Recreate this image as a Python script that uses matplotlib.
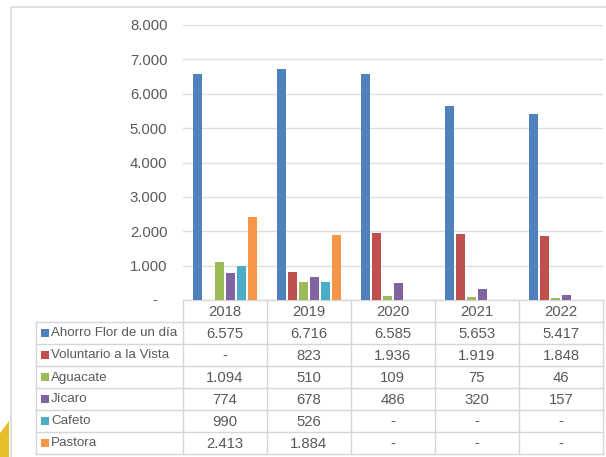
import numpy as np
import matplotlib

matplotlib.use("Agg")
import matplotlib.pyplot as plt
from matplotlib.patches import Polygon, Rectangle

plt.rcParams["font.family"] = ["Liberation Sans", "DejaVu Sans"]

years = ["2018", "2019", "2020", "2021", "2022"]
series_names = [
    "Ahorro Flor de un día",
    "Voluntario a la Vista",
    "Aguacate",
    "Jícaro",
    "Cafeto",
    "Pastora",
]
ahorro_flor = [6575, 6716, 6585, 5653, 5417]
voluntario_vista = [0, 823, 1936, 1919, 1848]
aguacate = [1094, 510, 109, 75, 46]
jicaro = [774, 678, 486, 320, 157]
cafeto = [990, 526, 0, 0, 0]
pastora = [2413, 1884, 0, 0, 0]
series_values = [ahorro_flor, voluntario_vista, aguacate, jicaro, cafeto, pastora]
colors = ["#4F81BD", "#C0504D", "#9BBB59", "#8064A2", "#4BACC6", "#F79646"]
y_ticks = [0, 1000, 2000, 3000, 4000, 5000, 6000, 7000, 8000]


def fmt(v):
    # Excel-style thousands separator with dot, zero as dash
    if v == 0:
        return "-"
    return f"{v:,}".replace(",", ".")


W, H = 606, 457
fig = plt.figure(figsize=(W / 100, H / 100), dpi=100)
fig.patch.set_facecolor("white")

text_color = "#595959"
grid_color = "#DDDDDD"
fs = 10.7

# overlay in pixel coords for frame and table
ov = fig.add_axes([0, 0, 1, 1])
ov.set_xlim(0, W)
ov.set_ylim(H, 0)
ov.axis("off")

# outer chart frame
ov.add_patch(Rectangle((10.5, 6.5), 620, 470, fill=False, ec="#DADADA", lw=1.2))
# yellow decoration
ov.add_patch(Polygon([(0, 457), (0, 433), (9, 421), (9, 457)], closed=True, fc="#E5BE2A", ec="none"))

# plot area
x0, x1 = 182.7, 603
ytop, ybot = 25, 300
ax = fig.add_axes([x0 / W, 1 - ybot / H, (x1 - x0) / W, (ybot - ytop) / H])
ax.set_facecolor("none")
n = len(series_names)
pitch = 11 / 84
width = 9 / 84
x = np.arange(len(years))
for i, (vals, c) in enumerate(zip(series_values, colors)):
    ax.bar(x + (i - (n - 1) / 2) * pitch, vals, width=width, color=c, zorder=3)
ax.set_xlim(-0.5, len(years) - 0.5)
ax.set_ylim(0, 8000)
ax.set_yticks(y_ticks)
ax.set_yticklabels([fmt(v) if v else "" for v in y_ticks])
ax.tick_params(axis="y", length=0, pad=11, labelsize=fs, labelcolor=text_color)
ax.set_xticks([])
ax.yaxis.grid(True, color=grid_color, lw=1.0, zorder=0)
for s in ax.spines.values():
    s.set_visible(False)
ax.text(-0.06, 0, "-", transform=ax.get_yaxis_transform(), ha="right", va="center",
        fontsize=fs, color=text_color)

# data table
col_edges = np.linspace(x0, x1, len(years) + 1)
lab_left = 36
head_top, head_bot = 300, 321.5
row_h = 22
tbl_bot = head_bot + row_h * n
lc = "#D6D6D6"

# header row
ov.plot([x0, x1], [head_top, head_top], color=lc, lw=1)
for j, yr in enumerate(years):
    ov.text((col_edges[j] + col_edges[j + 1]) / 2, (head_top + head_bot) / 2 + 1, yr,
            ha="center", va="center", fontsize=fs, color=text_color)
# horizontal lines
for k in range(n + 1):
    yy = head_bot + k * row_h
    ov.plot([lab_left, x1], [yy, yy], color=lc, lw=1)
# vertical lines
ov.plot([lab_left, lab_left], [head_bot, tbl_bot], color=lc, lw=1)
for j, xe in enumerate(col_edges):
    ov.plot([xe, xe], [head_top, tbl_bot], color=lc, lw=1)

for i, (name, vals, c) in enumerate(zip(series_names, series_values, colors)):
    yc = head_bot + (i + 0.5) * row_h + 1
    ov.add_patch(Rectangle((lab_left + 5, yc - 4.5), 8, 8, fc=c, ec="none"))
    ov.text(lab_left + 15, yc, name, ha="left", va="center", fontsize=9.6, color=text_color)
    for j, v in enumerate(vals):
        ov.text((col_edges[j] + col_edges[j + 1]) / 2, yc, fmt(v),
                ha="center", va="center", fontsize=fs, color=text_color)

fig.savefig("out.png", dpi=100)
